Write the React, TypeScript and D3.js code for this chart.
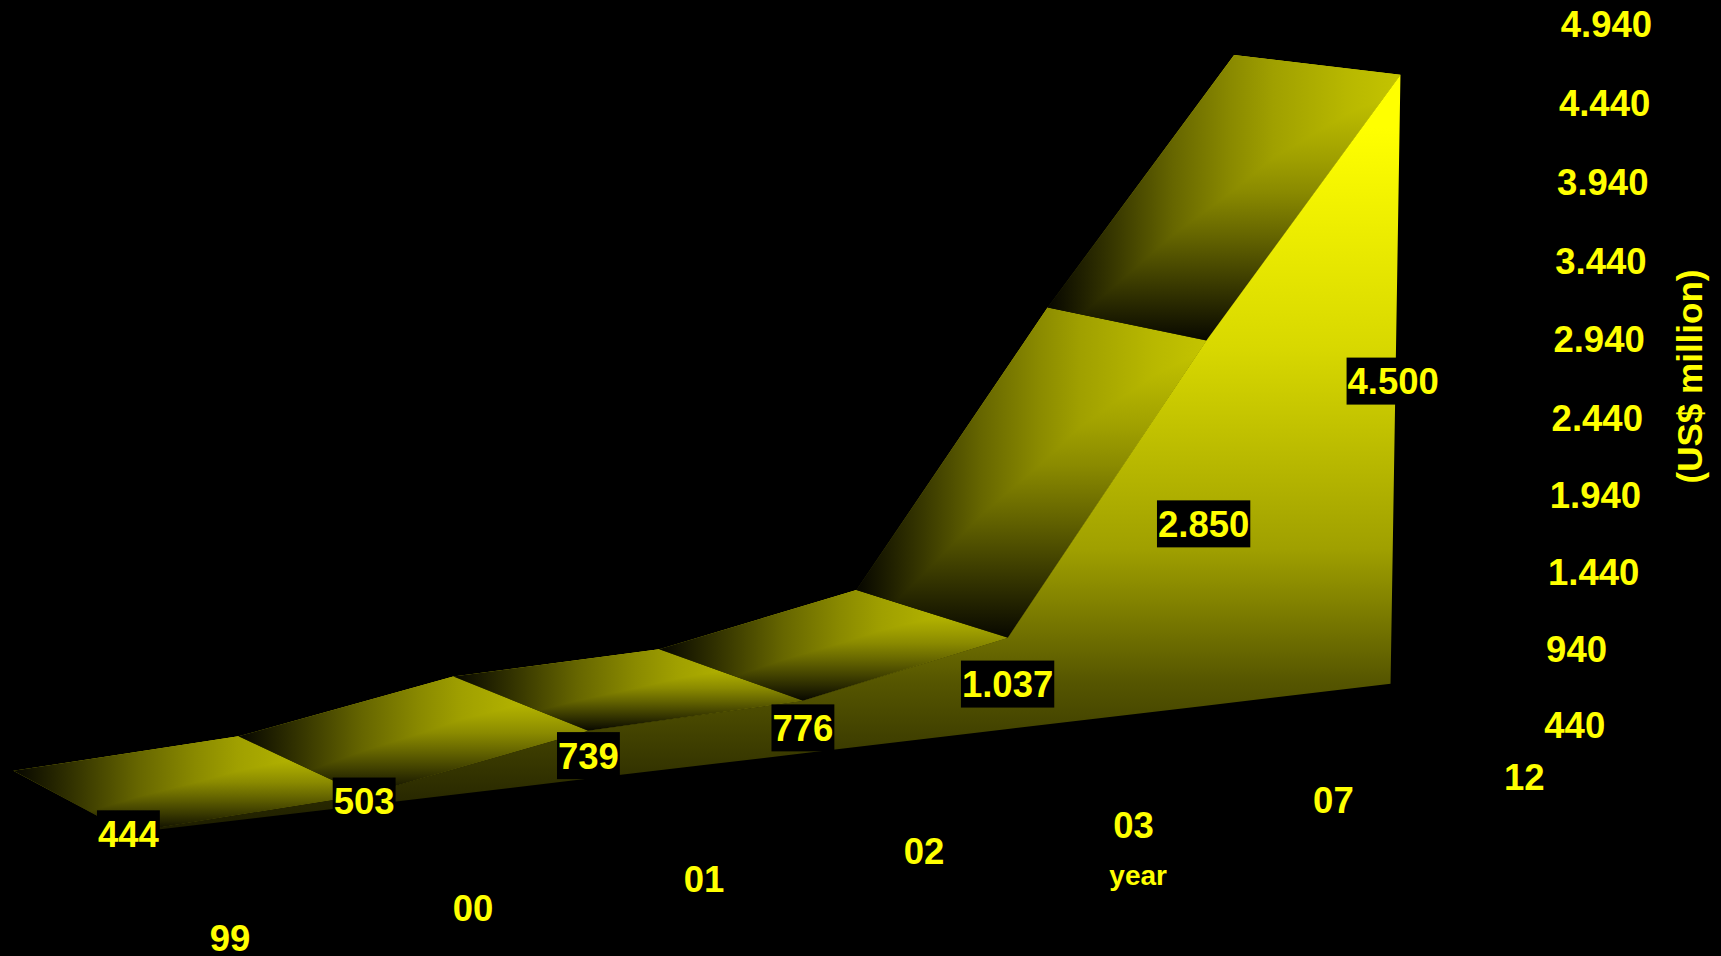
import React from "react";
import * as d3 from "d3";

const years = ["99", "00", "01", "02", "03", "07", "12"];
const values = [444, 503, 739, 776, 1037, 2850, 4500];
const yTicks = [440, 940, 1440, 1940, 2440, 2940, 3440, 3940, 4440, 4940];

const W = 1721;
const H = 956;
const S = W / 1568;
const YEL = "#ffff00";
const FONT = "'Liberation Sans', Arial, sans-serif";

const fmt = d3.formatLocale({ decimal: ",", thousands: ".", grouping: [3], currency: ["", ""] }).format(",d");

// perspective projection: depth 0 = front wall, 1 = rear edge
const hScale = d3.scaleLinear().domain([440, 4500]).range([0, 1]);
function project(i: number, value: number, z: number): [number, number] {
  const h = hScale(value);
  const w = 1 + 0.0249 * i + 0.0626 * z - 0.03 * h;
  const lift = z > 0 ? 5 * z * Math.sqrt(h) : 0;
  const x = (117 + 223.2 * i - 104.25 * z - 27.9 * h + lift) / w;
  const y = (759 - 7.15 * i - 12 * z - 639.9 * h - lift) / w;
  return [x * S, y * S];
}

const tickX = d3.scaleLinear().domain([440, 4940]).range([1407 * S, 1422 * S]);
const tickY = d3.scaleLinear().domain([440, 2440, 4940]).range([661 * S, 381 * S, 22 * S]);
const poly = d3.line<[number, number]>().curve(d3.curveLinearClosed);

function labelWidth(t: string, size: number) {
  let u = 0;
  for (const c of t) u += c === "." ? 0.278 : 0.556;
  return u * size;
}

export default function App() {
  const fs = 36.5;
  const wall: [number, number][] = [
    ...values.map((v, i) => project(i, v, 0)),
    ...values.map((_, i) => project(i, 440, 0)).reverse(),
  ];
  return (
    <svg
      width={W}
      height={H}
      viewBox={`0 0 ${W} ${H}`}
      style={{ position: "fixed", left: 0, top: 0, background: "#000", display: "block" }}
    >
      <defs>
        <linearGradient id="stripH" x1="0" y1="0" x2="1" y2="0">
          <stop offset="0" stopColor="#060600" />
          <stop offset="0.17" stopColor="#333300" />
          <stop offset="0.355" stopColor="#666600" />
          <stop offset="0.52" stopColor="#8a8a00" />
          <stop offset="0.64" stopColor="#a0a000" />
          <stop offset="0.85" stopColor="#b8b800" />
          <stop offset="1" stopColor="#c4c400" />
        </linearGradient>
        <linearGradient id="stripV" x1="0" y1="0" x2="0" y2="1">
          <stop offset="0" stopColor="#d8d800" />
          <stop offset="0.36" stopColor="#a0a000" />
          <stop offset="0.48" stopColor="#8a8a00" />
          <stop offset="0.63" stopColor="#666600" />
          <stop offset="0.83" stopColor="#333300" />
          <stop offset="1" stopColor="#080800" />
        </linearGradient>
        <linearGradient id="wallV" x1="0" y1="0" x2="0" y2="1">
          <stop offset="0" stopColor="#ffff00" />
          <stop offset="0.07" stopColor="#ffff00" />
          <stop offset="0.36" stopColor="#d8d800" />
          <stop offset="0.625" stopColor="#a0a000" />
          <stop offset="0.8" stopColor="#565600" />
          <stop offset="1" stopColor="#1c1c00" />
        </linearGradient>
      </defs>
      {values.slice(0, -1).map((v, i) => {
        const q: [number, number][] = [
          project(i, v, 1),
          project(i + 1, values[i + 1], 1),
          project(i + 1, values[i + 1], 0),
          project(i, v, 0),
        ];
        const d = poly(q) as string;
        return (
          <g key={years[i]} style={{ isolation: "isolate" }}>
            <path d={d} fill="url(#stripH)" />
            <path d={d} fill="url(#stripV)" style={{ mixBlendMode: "darken" }} />
          </g>
        );
      })}
      <path d={poly(wall) as string} fill="url(#wallV)" />
      <g fontFamily={FONT} fontWeight="bold" fill={YEL} fontSize={fs} textAnchor="middle">
        {values.map((v, i) => {
          const [px, py] = project(i, (v + 440) / 2, 0);
          const h = hScale(v);
          const x = px - 2 * h * S;
          const y = py + (1 - 3 * h) * S;
          const t = fmt(v);
          const bw = labelWidth(t, fs) + 2;
          return (
            <g key={t}>
              <rect x={x - bw / 2} y={y - 23.5} width={bw} height={47} fill="#000" />
              <text x={x} y={y + 13}>{t}</text>
            </g>
          );
        })}
        {years.map((t, i) => {
          const [x, y] = project(0.02 + 0.994 * i, 440, -0.74);
          return (
            <text key={t} x={x + 1.5 * S} y={y + 50 * S + 13}>{t}</text>
          );
        })}
        {yTicks.map((t) => (
          <text key={t} x={tickX(t)} y={tickY(t) + 13} textAnchor="start">{fmt(t)}</text>
        ))}
        <text x={1037 * S} y={797 * S + 10} fontSize={28}>year</text>
        <text transform={`translate(${1540 * S},${343 * S}) rotate(-90)`} y={12} fontSize={35}>(US$ million)</text>
      </g>
    </svg>
  );
}
